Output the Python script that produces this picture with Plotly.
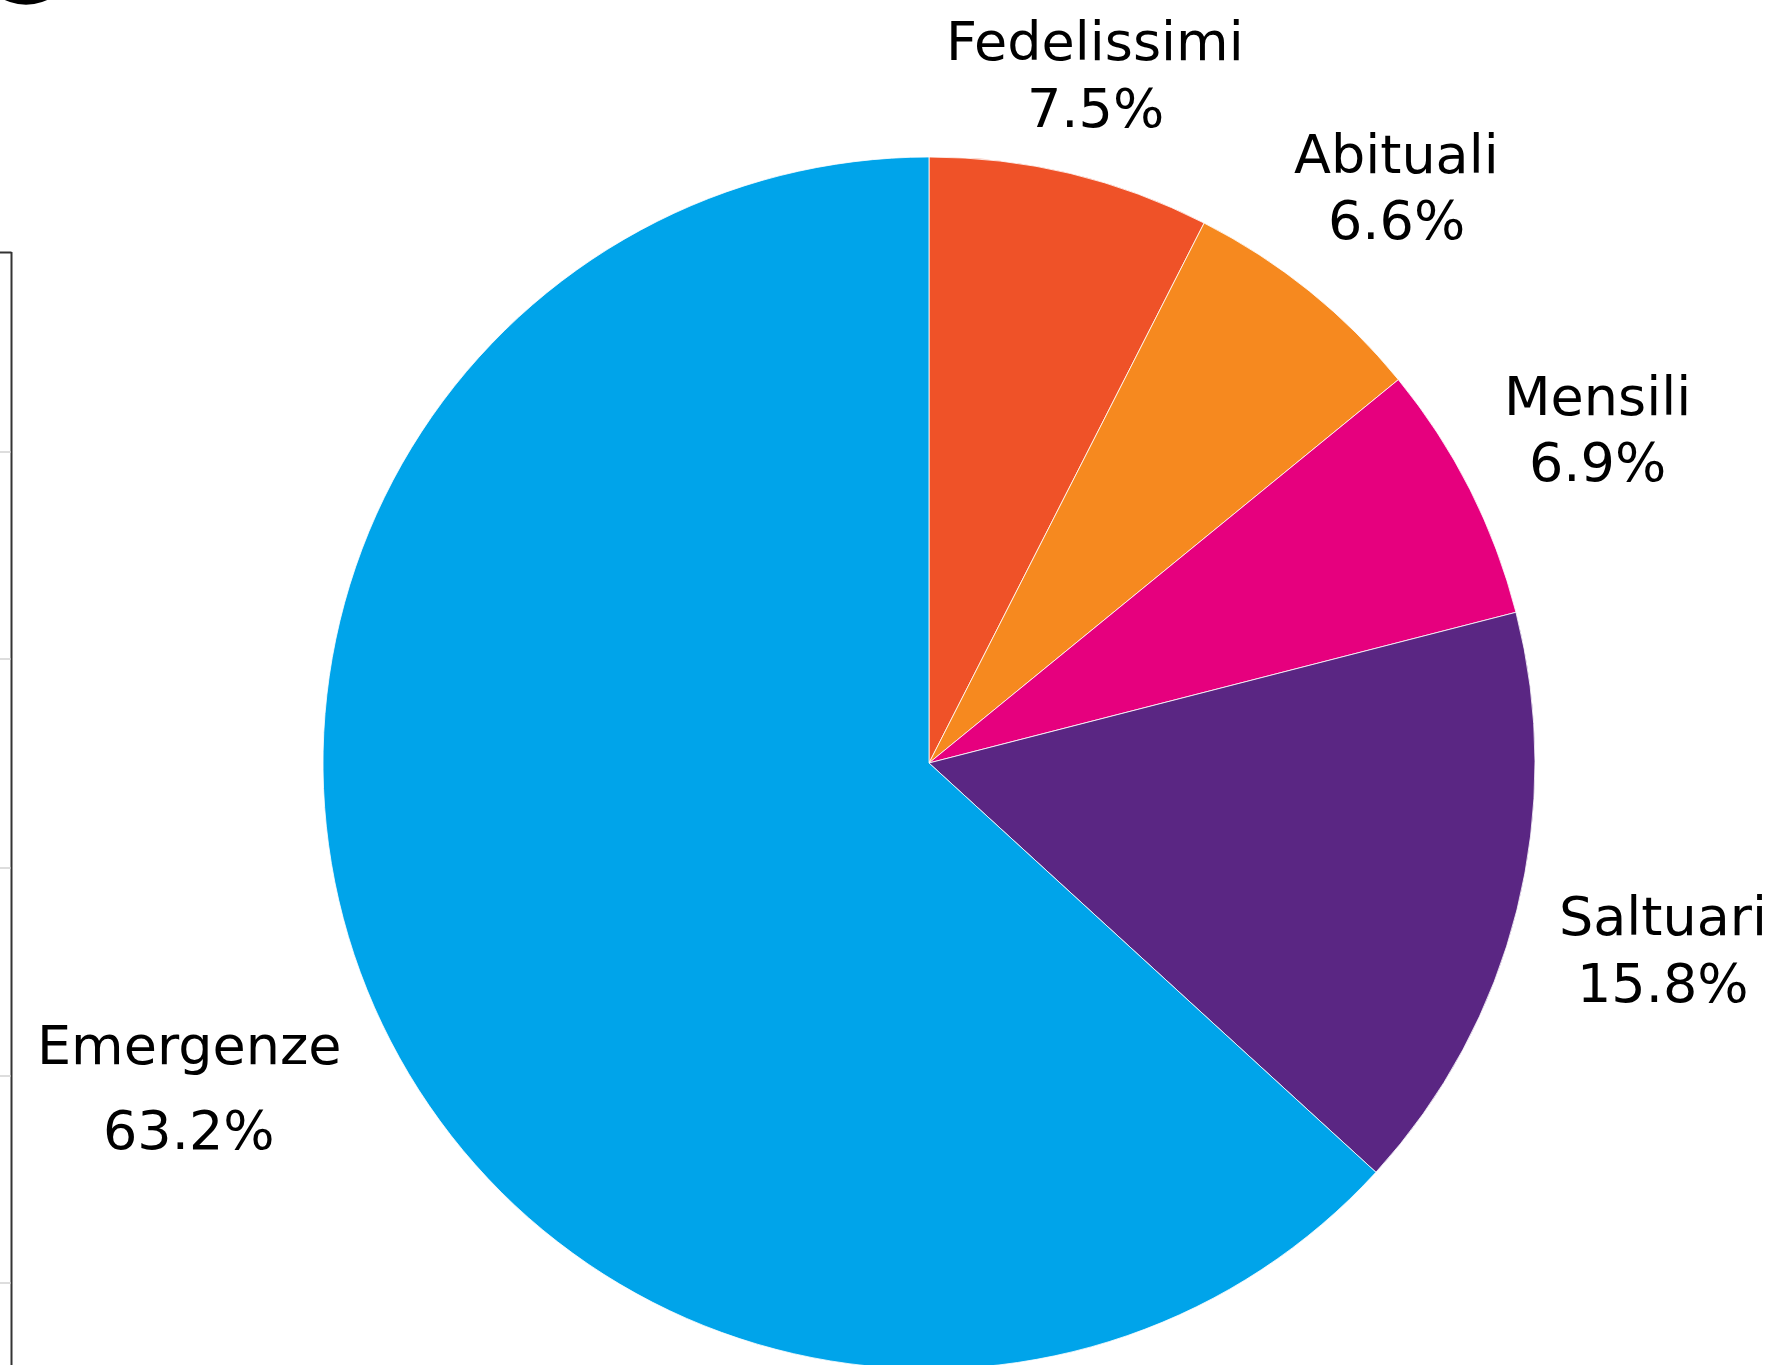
import math
import plotly.graph_objects as go

# ---- data ----
categories = ["Fedelissimi", "Abituali", "Mensili", "Saltuari", "Emergenze"]
values = [7.5, 6.6, 6.9, 15.8, 63.2]
colors = ["#EF5228", "#F6891F", "#E6007E", "#5A2683", "#00A4EA"]

# ---- layout constants (pixels) ----
W, H = 1779, 1374                  # slightly taller than the window; bottom is clipped like the reference
CX, CY, R = 929, 763, 606          # pie centre / radius in px (y from top)
label_r = [1.175, 1.228, 1.236, 1.248, 1.334]   # label distance / radius
line_gap = [67, 66, 66, 67, 85]                 # px between name and percent line centres
label_dy = [4, 4, 4, 4, -1]                     # vertical fine-tuning for the substitute font
FONT = "DejaVu Sans"
FS = 54

def px(x):
    return x / W

def py(y):
    return 1 - y / H

fig = go.Figure(go.Pie(
    labels=categories,
    values=values,
    sort=False,
    direction="clockwise",
    rotation=0,
    marker=dict(colors=colors, line=dict(color="rgba(255,255,255,0.8)", width=1)),
    textinfo="none",
    hoverinfo="label+percent",
    showlegend=False,
    domain=dict(x=[px(CX - R), px(CX + R)], y=[py(CY + R), py(CY - R)]),
))

total = sum(values)
cum = 0.0
annotations = []
for i, (cat, v) in enumerate(zip(categories, values)):
    mid = (cum + v / 2) / total * 2 * math.pi
    cum += v
    d = label_r[i] * R
    lx = CX + d * math.sin(mid)
    ly = CY - d * math.cos(mid) + label_dy[i]
    g = line_gap[i] / 2
    annotations.append(dict(x=px(lx), y=py(ly - g), xref="paper", yref="paper",
                            text=cat, showarrow=False, xanchor="center", yanchor="middle",
                            font=dict(family=FONT, size=FS, color="#000000")))
    annotations.append(dict(x=px(lx), y=py(ly + g), xref="paper", yref="paper",
                            text=f"{v:.1f}%", showarrow=False, xanchor="center", yanchor="middle",
                            font=dict(family=FONT, size=FS, color="#000000")))

# decorative fragments of a neighbouring element visible at the left edge
shapes = [
    dict(type="circle", xref="paper", yref="paper", x0=px(-16), x1=px(68), y0=py(4.7), y1=py(-64),
         fillcolor="#000000", line=dict(width=0)),
    dict(type="line", xref="paper", yref="paper", x0=px(11.5), x1=px(11.5), y0=py(252), y1=py(H + 5),
         line=dict(color="#333333", width=2)),
    dict(type="line", xref="paper", yref="paper", x0=px(0), x1=px(11.5), y0=py(252.5), y1=py(252.5),
         line=dict(color="#333333", width=2)),
]
for ty in [452, 659, 868, 1076, 1283]:
    shapes.append(dict(type="line", xref="paper", yref="paper", x0=px(0), x1=px(10.5), y0=py(ty), y1=py(ty),
                       line=dict(color="#DDDDDD", width=2)))

fig.update_layout(
    width=W, height=H,
    margin=dict(l=0, r=0, t=0, b=0),
    paper_bgcolor="#FFFFFF",
    plot_bgcolor="#FFFFFF",
    annotations=annotations,
    shapes=shapes,
)

fig.write_html("out.html", config={"displayModeBar": False},
               post_script="document.body.style.margin='0';document.body.style.overflow='hidden';")
